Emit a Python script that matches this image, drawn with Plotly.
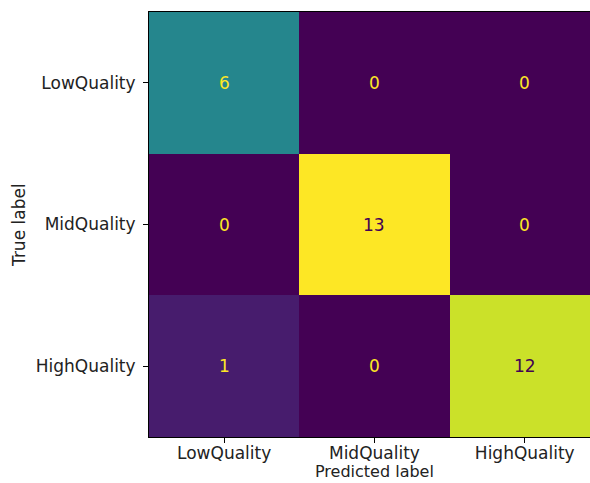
import plotly.graph_objects as go

# Confusion matrix of wine quality classes
labels = ["LowQuality", "MidQuality", "HighQuality"]
counts = [
    [6, 0, 0],
    [0, 13, 0],
    [1, 0, 12],
]
x_title = "Predicted label"
y_title = "True label"

VIRIDIS_LOW = "#440154"
VIRIDIS_HIGH = "#fde725"
FONT = "DejaVu Sans"
FS = 17
TEXT = "#222222"

n = len(labels)
zmax = max(max(r) for r in counts)
zmin = min(min(r) for r in counts)
thresh = (zmax + zmin) / 2.0

fig = go.Figure(
    go.Heatmap(
        z=counts,
        x=list(range(n)),
        y=list(range(n)),
        colorscale="Viridis",
        zmin=zmin,
        zmax=zmax,
        showscale=False,
        hoverinfo="skip",
    )
)

# Cell count labels: light text on dark cells, dark text on light cells
for i, row in enumerate(counts):
    for j, v in enumerate(row):
        fig.add_annotation(
            x=j, y=i, text=str(v), showarrow=False,
            font=dict(family=FONT, size=FS,
                      color=VIRIDIS_HIGH if v < thresh else VIRIDIS_LOW),
        )

W, H = 590, 483
left, top, bottom = 149, 12, 46
plot_w = W - left
plot_h = H - top - bottom
cell_w = 150.3
# visible part of the x range given the page width
x_right = -0.5 + plot_w / cell_w

# Axis titles placed in paper coordinates
fig.add_annotation(
    xref="paper", yref="paper",
    x=(374 - left) / plot_w, y=-bottom / plot_h,
    xanchor="center", yanchor="bottom",
    text=x_title, showarrow=False,
    font=dict(family=FONT, size=16, color=TEXT),
)
fig.add_annotation(
    xref="paper", yref="paper",
    x=-(left - 19) / plot_w, y=1 - (225 - top) / plot_h,
    xanchor="center", yanchor="middle", textangle=-90,
    text=y_title, showarrow=False,
    font=dict(family=FONT, size=FS, color=TEXT),
)

fig.update_layout(
    width=W, height=H,
    margin=dict(l=left, r=0, t=top, b=bottom, pad=0),
    paper_bgcolor="white",
    plot_bgcolor="white",
    font=dict(family=FONT, size=FS, color=TEXT),
    xaxis=dict(
        range=[-0.5, x_right],
        tickmode="array", tickvals=list(range(n)), ticktext=labels,
        ticks="outside", ticklen=5, tickwidth=1, tickcolor="black",
        ticklabelstandoff=-4,
        showline=True, linecolor="black", linewidth=1, mirror=True,
        showgrid=False, zeroline=False,
    ),
    yaxis=dict(
        range=[2.5, -0.5],
        tickmode="array", tickvals=list(range(n)), ticktext=labels,
        ticks="outside", ticklen=5, tickwidth=1, tickcolor="black",
        ticklabelstandoff=4,
        showline=True, linecolor="black", linewidth=1,
        showgrid=False, zeroline=False,
    ),
)

fig.write_html("out.html")
